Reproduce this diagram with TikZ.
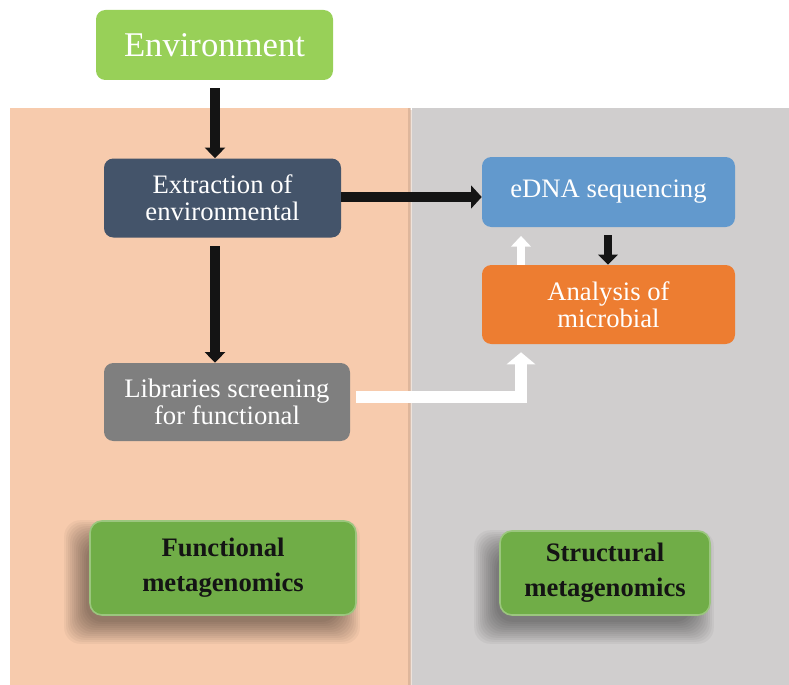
\documentclass[tikz,border=0pt]{standalone}
\usepackage{fontspec}
\setmainfont{Liberation Serif}
\usetikzlibrary{arrows.meta,calc}

\definecolor{envgreen}{RGB}{152,208,88}
\definecolor{peach}{RGB}{247,203,173}
\definecolor{panelgray}{RGB}{208,206,206}
\definecolor{slate}{RGB}{68,84,106}
\definecolor{skyblue}{RGB}{98,153,205}
\definecolor{tangerine}{RGB}{237,125,49}
\definecolor{midgray}{RGB}{127,127,127}
\definecolor{leafgreen}{RGB}{112,173,71}
\definecolor{inkblack}{RGB}{20,20,20}

\pgfdeclarelayer{panels}
\pgfdeclarelayer{shade}
\pgfsetlayers{panels,shade,main}

\tikzset{
  procbox/.style={rounded corners=7pt, text=white, align=center,
    inner sep=0pt, font=\fontsize{20}{20.5}\selectfont},
  labelbox/.style={rounded corners=9pt, fill=leafgreen, draw=leafgreen!70!white,
    line width=1.2pt, align=center, inner sep=0pt,
    font=\fontsize{20}{26}\selectfont\bfseries, text=inkblack},
  softshade/.style={fill=black, opacity=0.04, rounded corners=12pt},
  blackarrow/.style={draw=inkblack, line width=7.5pt,
    -{Triangle[width=15pt,length=8pt]}},
  smallblack/.style={draw=inkblack, line width=6pt,
    -{Triangle[width=14.5pt,length=7.5pt]}},
  widearrow/.style={draw=inkblack, line width=7.5pt,
    -{Triangle[width=17pt,length=8pt]}},
  whitearrow/.style={draw=white, line width=6pt,
    -{Triangle[width=14.5pt,length=8pt]}},
  whiteelbow/.style={draw=white, line width=9pt, line join=miter,
    -{Triangle[width=21pt,length=9pt]}},
}

\begin{document}
\begin{tikzpicture}[x=0.75pt,y=-0.75pt]
  \useasboundingbox (0,0) rectangle (789,685);

  % background panels
  \begin{pgfonlayer}{panels}
    \fill[white] (0,0) rectangle (789,685);
    \fill[peach!85!black, opacity=0.35] (410,110) rectangle (414,685);
    \fill[peach] (10,108) rectangle (410,685);
    \fill[panelgray] (412,108) rectangle (789,685);
    \fill[peach!80!black, opacity=0.5] (408,108) rectangle (411,685);
  \end{pgfonlayer}

  % process boxes
  \node[procbox, fill=envgreen, minimum width=177.75pt, minimum height=52.5pt,
        font=\fontsize{26}{26}\selectfont] (env) at (214.5,45) {Environment};
  \node[procbox, fill=slate, minimum width=177.75pt, minimum height=59.25pt]
        (ext) at (222.5,198) {Extraction of\\environmental};
  \node[procbox, fill=skyblue, minimum width=189.75pt, minimum height=52.5pt]
        (edna) at (608.5,192) {eDNA sequencing};
  \node[procbox, fill=tangerine, minimum width=189.75pt, minimum height=59.25pt]
        (ana) at (608.5,304.5) {Analysis of\\microbial};
  \node[procbox, fill=midgray, minimum width=184.5pt, minimum height=58.5pt]
        (lib) at (227,402) {Libraries screening\\for functional};

  % category labels
  \node[labelbox, minimum width=199.5pt, minimum height=70.5pt]
        (func) at (223,568) {Functional\\metagenomics};
  \node[labelbox, minimum width=157.5pt, minimum height=63pt]
        (struct) at (605,573) {Structural\\metagenomics};

  % soft drop shadows under the category labels
  \begin{pgfonlayer}{shade}
    \foreach \lbl in {func,struct}{
      \foreach \r in {-8,-6,...,14}{
        \fill[softshade]
          ($(\lbl.south west)+(-11,14)+(-\r,\r)$) rectangle
          ($(\lbl.north east)+(-11,14)+(\r,-\r)$);
      }
    }
  \end{pgfonlayer}

  % connectors
  \coordinate (ax) at (215,0);
  \draw[blackarrow, shorten <=6pt] (env.south -| ax) -- (ext.north -| ax);
  \draw[blackarrow, shorten <=6.5pt] (ext.south -| ax) -- (lib.north -| ax);
  \draw[widearrow] ($(ext.east)+(0,-1)$) -- ($(ext.east -| edna.west)+(0,-1)$);
  \coordinate (bx) at (608,0);
  \draw[smallblack, shorten <=6pt] (edna.south -| bx) -- (ana.north -| bx);
  \coordinate (wx) at (521,0);
  \draw[whitearrow, shorten >=6.5pt] (ana.north -| wx) -- (edna.south -| wx);
  \draw[whiteelbow, shorten <=4.5pt, shorten >=6pt]
        ($(lib.east)+(0,-5)$) -| (ana.south -| wx);
\end{tikzpicture}
\end{document}
